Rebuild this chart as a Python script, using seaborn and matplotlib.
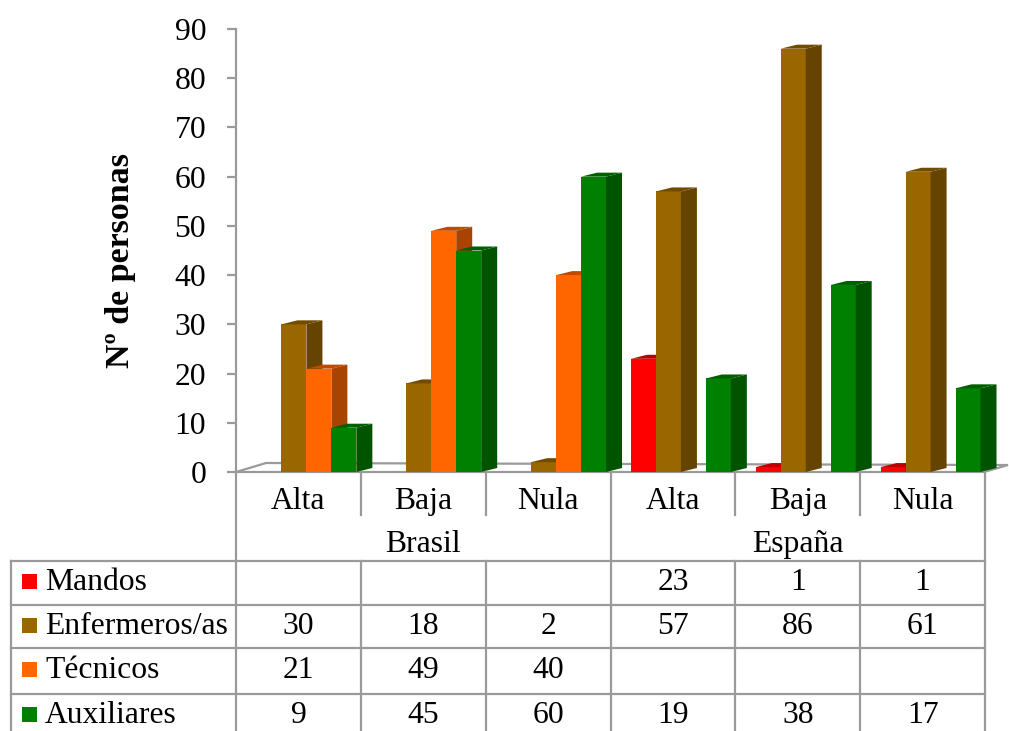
import matplotlib
matplotlib.use("Agg")
import matplotlib.pyplot as plt
import matplotlib.colors as mcolors
from matplotlib.patches import Polygon, Rectangle
from matplotlib.lines import Line2D
import numpy as np
import pandas as pd
import seaborn as sns

# ---- data ----
countries = ["Brasil", "España"]
levels = ["Alta", "Baja", "Nula"]
series = ["Mandos", "Enfermeros/as", "Técnicos", "Auxiliares"]
colors = ["#FF0000", "#996600", "#FF6600", "#008000"]

mandos = [None, None, None, 23, 1, 1]
enfermeros = [30, 18, 2, 57, 86, 61]
tecnicos = [21, 49, 40, None, None, None]
auxiliares = [9, 45, 60, 19, 38, 17]
yticks = list(range(0, 91, 10))

values = [mandos, enfermeros, tecnicos, auxiliares]
groups = [f"{c} {l}" for c in countries for l in levels]

rows = []
for name, vals in zip(series, values):
    for g, v in zip(groups, vals):
        if v is not None:
            rows.append({"grupo": g, "serie": name, "valor": v})
df = pd.DataFrame(rows)

# ---- style ----
sns.set_theme(style="white")
plt.rcParams["font.family"] = ["Liberation Serif", "DejaVu Serif"]
plt.rcParams["text.color"] = "black"
GRAY = "#9a9a9a"
FS = 22.8
LW = 1.6

W, H = 1009, 731
fig = plt.figure(figsize=(W / 100, H / 100), dpi=100)


def fx(px):
    return px / W


def fy(py):
    return 1 - py / H


# plot area: x 236..985 px, y 29..472 px
X0, X1, YT, YB = 236, 985, 29, 472
ax = fig.add_axes([fx(X0), fy(YB), (X1 - X0) / W, (YB - YT) / H])
ax.patch.set_visible(False)

sns.barplot(data=df, x="grupo", y="valor", hue="serie", order=groups,
            hue_order=series, palette=colors, width=0.8, saturation=1,
            errorbar=None, legend=False, linewidth=0, edgecolor="none", ax=ax)

col_px = (X1 - X0) / len(groups)           # pixels per category
unit_px = (YB - YT) / 90.0                  # pixels per value unit
shift = 8 / col_px                          # bars sit slightly right of the column centre

# floor of the pseudo-3D plot
floor = Polygon([(fx(236), fy(472)), (fx(984), fy(472)), (fx(1008), fy(465)),
                 (fx(266), fy(463))], closed=True, facecolor="white",
                edgecolor=GRAY, lw=LW, transform=fig.transFigure,
                zorder=1, clip_on=False)
ax.add_artist(floor)

# side and top faces for every bar
dx = 16 / col_px
dy = 4 / unit_px
bars = sorted([p for p in ax.patches if isinstance(p, Rectangle)],
              key=lambda p: p.get_x())
for rank, p in enumerate(bars):
    x0, w, h = p.get_x(), p.get_width(), p.get_height()
    if not np.isfinite(h) or h <= 0:
        continue
    rgb = np.array(mcolors.to_rgb(p.get_facecolor()))
    side_c = rgb * 0.66
    top_c = rgb * 0.74
    z = 2 + rank * 0.01
    p.set_zorder(z)
    p.set_clip_on(False)
    x1 = x0 + w
    side = Polygon([(x1, 0), (x1 + dx, dy), (x1 + dx, h + dy), (x1, h)],
                   closed=True, facecolor=side_c, edgecolor="none",
                   zorder=z, clip_on=False)
    top = Polygon([(x0, h), (x1, h), (x1 + dx, h + dy), (x0 + dx, h + dy)],
                  closed=True, facecolor=top_c, edgecolor="none",
                  zorder=z, clip_on=False)
    ax.add_patch(side)
    ax.add_patch(top)

ax.set_xlim(-0.5 - shift, len(groups) - 0.5 - shift)
ax.set_ylim(0, 90)

# axes styling
for s in ["top", "right", "bottom"]:
    ax.spines[s].set_visible(False)
ax.spines["left"].set_color(GRAY)
ax.spines["left"].set_linewidth(LW)
ax.set_xticks([])
ax.set_xlabel("")
ax.set_ylabel("")
ax.set_yticks(yticks)
ax.set_yticklabels([str(t) for t in yticks])
ax.tick_params(axis="y", length=6.5, width=LW, color=GRAY, pad=15,
               labelsize=FS, labelcolor="black", left=True)

fig.text(fx(121), fy(261), "Nº de personas", rotation=90, fontsize=24.5,
         fontweight="bold", ha="center", va="center", color="black")

# ---- data table ----
def hline(y, xa, xb):
    fig.add_artist(Line2D([fx(xa), fx(xb)], [fy(y), fy(y)], color=GRAY,
                          lw=LW, solid_capstyle="projecting"))


def vline(x, ya, yb):
    fig.add_artist(Line2D([fx(x), fx(x)], [fy(ya), fy(yb)], color=GRAY,
                          lw=LW, solid_capstyle="projecting"))


col_edges = [X0 + i * col_px for i in range(len(groups) + 1)]
row_edges = [561, 605, 648, 694, 731]
LEFT = 11

for i, x in enumerate(col_edges):
    if i in (0, 3, 6):
        vline(x, 472, H)
    else:
        vline(x, 472, 515)
        vline(x, 561, H)
vline(LEFT, 561, H)
for y in row_edges[:-1]:
    hline(y, LEFT, X1)

# header rows
for i, g in enumerate(groups):
    cx = (col_edges[i] + col_edges[i + 1]) / 2
    fig.text(fx(cx), fy(509), levels[i % 3], fontsize=FS,
             ha="center", va="baseline", color="black")
for k, c in enumerate(countries):
    cx = (col_edges[3 * k] + col_edges[3 * k + 3]) / 2
    fig.text(fx(cx), fy(552), c, fontsize=FS, ha="center", va="baseline",
             color="black")

# series rows with legend keys
baselines = [590, 634, 678, 723]
for name, color, vals, base in zip(series, colors, values, baselines):
    fig.add_artist(Rectangle((fx(22), fy(base - 1)), 15 / W, 15 / H,
                             facecolor=color, edgecolor="none",
                             transform=fig.transFigure))
    fig.text(fx(45), fy(base), name, fontsize=FS, ha="left", va="baseline",
             color="black")
    for i, v in enumerate(vals):
        if v is not None:
            cx = (col_edges[i] + col_edges[i + 1]) / 2
            fig.text(fx(cx), fy(base), str(v), fontsize=FS,
                     ha="center", va="baseline", color="black")

fig.savefig("out.png", dpi=100, facecolor="white")
